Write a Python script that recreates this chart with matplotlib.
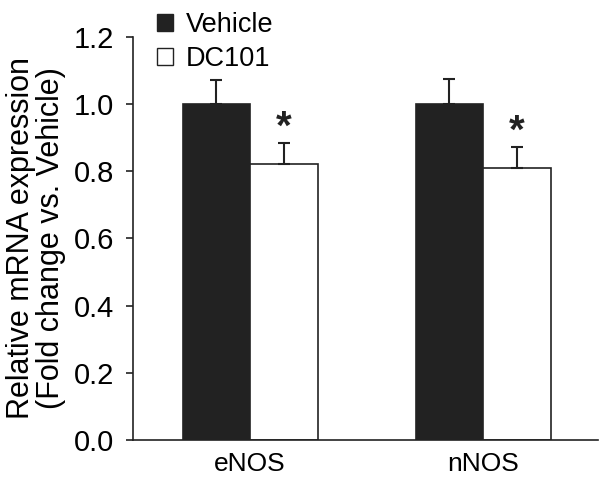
import numpy as np
import matplotlib.pyplot as plt
from matplotlib.patches import Patch

plt.rcParams['font.family'] = ['Liberation Sans', 'DejaVu Sans']

# ----------------------------
# Data
# ----------------------------
genes = ['eNOS', 'nNOS']
vehicle_mean = [1.00, 1.00]
vehicle_err = [0.073, 0.076]
dc101_mean = [0.821, 0.81]
dc101_err = [0.062, 0.061]
star_y = [0.955, 0.943]

ink = '#222222'
x = np.arange(len(genes))
w = 0.29

fig = plt.figure(figsize=(6, 4.84), dpi=100)
ax = fig.add_axes([0.222, 0.091, 0.775, 0.8325])

ax.bar(x - w / 2, vehicle_mean, w, color=ink, edgecolor=ink, linewidth=1.2,
       yerr=[np.zeros(2), vehicle_err], error_kw=dict(ecolor=ink, elinewidth=1.5, capsize=4.5, capthick=1.5))
ax.bar(x + w / 2, dc101_mean, w, color='white', edgecolor=ink, linewidth=1.2,
       yerr=[np.zeros(2), dc101_err], error_kw=dict(ecolor=ink, elinewidth=1.5, capsize=4.5, capthick=1.5))

# significance stars (glyph sits high in its box, so nudge down)
for xi, sy in zip(x, star_y):
    ax.annotate('*', (xi + w / 2, sy), xytext=(0, -6), textcoords='offset points',
                ha='center', va='center', fontsize=29, fontweight='bold', color=ink)

ax.set_xlim(-0.502, 1.494)
ax.set_ylim(0, 1.2)
ax.set_yticks(np.arange(0, 1.21, 0.2))
ax.set_yticklabels([f'{v:.1f}' for v in np.arange(0, 1.21, 0.2)])
ax.set_xticks(x)
ax.set_xticklabels(genes)
ax.tick_params(axis='y', direction='out', length=5, width=1.2, color=ink, labelsize=21, pad=9)
ax.tick_params(axis='x', length=0, labelsize=19, pad=9)
ax.spines['top'].set_visible(False)
ax.spines['right'].set_visible(False)
for s in ['left', 'bottom']:
    ax.spines[s].set_color(ink)
    ax.spines[s].set_linewidth(1.2)

ax.set_ylabel('Relative mRNA expression\n(Fold change vs. Vehicle)', fontsize=22, labelpad=5, linespacing=1.0)

handles = [Patch(facecolor=ink, edgecolor=ink), Patch(facecolor='white', edgecolor=ink)]
fig.legend(handles, ['Vehicle', 'DC101'], loc='upper left', bbox_to_anchor=(0.23, 1.015),
           frameon=False, fontsize=19.5, handlelength=0.6, handleheight=0.6,
           handletextpad=0.45, labelspacing=0.3, borderpad=0.2)

fig.savefig('out.png', dpi=100)
